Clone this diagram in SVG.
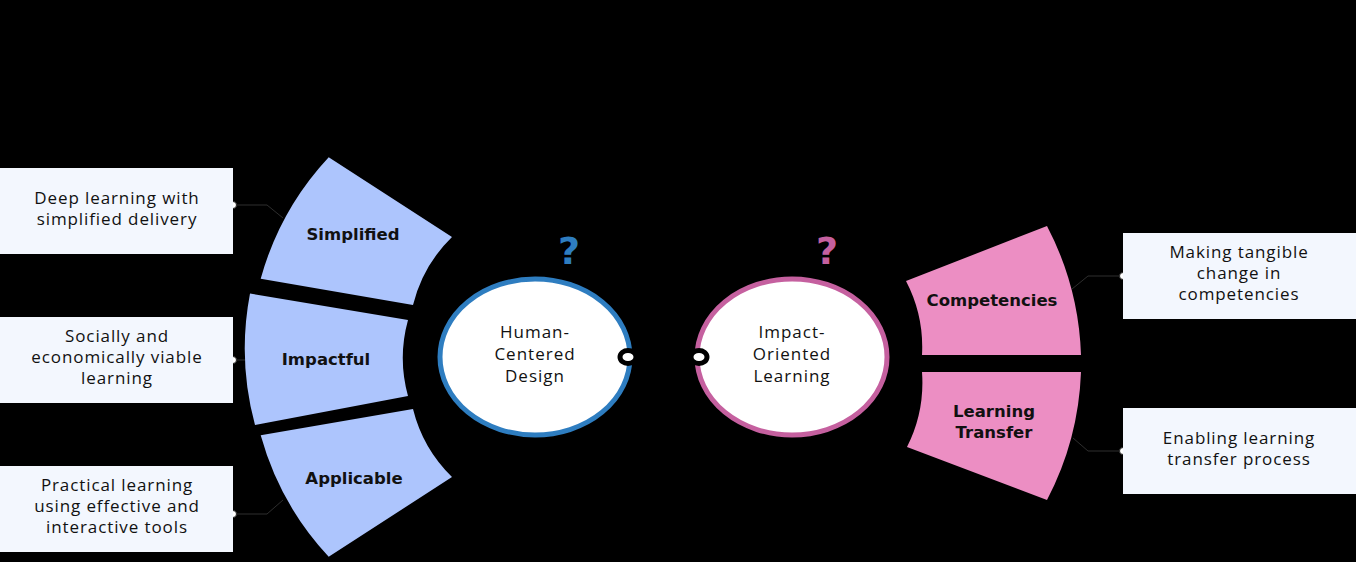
<svg xmlns="http://www.w3.org/2000/svg" width="1356" height="562" viewBox="0 0 1356 562">
<style>
.seg{fill:#adc5fd}
.pseg{fill:#ec8ec3}
.box{fill:#f3f7fe}
.lbl{font-family:"DejaVu Sans",sans-serif;font-weight:bold;font-size:16.5px;fill:#111;text-anchor:middle}
.bt{font-family:"Open Sans",sans-serif;font-size:17px;fill:#111;text-anchor:middle;letter-spacing:0.9px}
.ct{font-family:"Open Sans",sans-serif;font-size:17px;fill:#111;text-anchor:middle;letter-spacing:1px}
.con{fill:none;stroke:#2e2e2e;stroke-width:1}
.dot{fill:#fff;stroke:#222;stroke-width:1}
.knob{fill:#fff;stroke:#000;stroke-width:5}
</style>
<rect width="1356" height="562" fill="#000"/>
<g id="connectors">
<path class="con" d="M233,205 H267 L283,218"/>
<path class="con" d="M233,360 H252"/>
<path class="con" d="M233,514 H267 L283,500"/>
<path class="con" d="M1123,276 H1088 L1072,289"/>
<path class="con" d="M1123,451 H1088 L1073,438"/>
<circle class="dot" cx="233" cy="205" r="3.5"/>
<circle class="dot" cx="233" cy="360" r="3.5"/>
<circle class="dot" cx="233" cy="514" r="3.5"/>
<circle class="dot" cx="1123" cy="276" r="3.5"/>
<circle class="dot" cx="1123" cy="451" r="3.5"/>
</g>
<g id="box-simplified"><rect class="box" x="0" y="168" width="233" height="86"/><text class="bt" x="117" y="204">Deep learning with</text><text class="bt" x="117" y="225">simplified delivery</text></g>
<g id="box-impactful"><rect class="box" x="0" y="317" width="233" height="86"/><text class="bt" x="117" y="342">Socially and</text><text class="bt" x="117" y="363">economically viable</text><text class="bt" x="117" y="384">learning</text></g>
<g id="box-applicable"><rect class="box" x="0" y="466" width="233" height="86"/><text class="bt" x="117" y="491">Practical learning</text><text class="bt" x="117" y="512">using effective and</text><text class="bt" x="117" y="533">interactive tools</text></g>
<g id="seg-simplified"><path class="seg" d="M328.7,157.2 A293,293 0 0 0 260.7,278.7 L413,305 A143,143 0 0 1 452,237 Z"/><text class="lbl" x="353" y="240">Simplified</text></g>
<g id="seg-impactful"><path class="seg" d="M250,293.6 A293,293 0 0 0 255,425 L408,396 A143,143 0 0 1 408,320 Z"/><text class="lbl" x="326" y="365">Impactful</text></g>
<g id="seg-applicable"><path class="seg" d="M260.7,435.3 A293,293 0 0 0 328.7,556.8 L452,477 A143,143 0 0 1 413,409 Z"/><text class="lbl" x="354" y="484">Applicable</text></g>
<g id="hcd"><ellipse cx="535" cy="357" rx="95" ry="78" fill="#fff" stroke="#2e7dc0" stroke-width="5"/><text class="ct" x="535" y="338">Human-</text><text class="ct" x="535" y="360">Centered</text><text class="ct" x="535" y="382">Design</text>
<text x="569" y="264" font-family="DejaVu Sans,sans-serif" font-weight="bold" font-size="38" fill="#2e7dc0" text-anchor="middle">?</text>
<ellipse class="knob" cx="628" cy="357" rx="8" ry="6.5"/></g>
<g id="iol"><ellipse cx="792" cy="357" rx="95" ry="78" fill="#fff" stroke="#c5609f" stroke-width="5"/><text class="ct" x="792" y="338">Impact-</text><text class="ct" x="792" y="360">Oriented</text><text class="ct" x="792" y="382">Learning</text>
<text x="827" y="264" font-family="DejaVu Sans,sans-serif" font-weight="bold" font-size="38" fill="#c5609f" text-anchor="middle">?</text>
<ellipse class="knob" cx="699" cy="357" rx="8" ry="6.5"/></g>
<g id="seg-competencies"><path class="pseg" d="M1047,226 A300,300 0 0 1 1081,355 L922,355 A143,143 0 0 0 906,281 Z"/><text class="lbl" x="992" y="306">Competencies</text></g>
<g id="seg-transfer"><path class="pseg" d="M1081,372 A300,300 0 0 1 1047,500 L907,447 A143,143 0 0 0 922,372 Z"/><text class="lbl" x="994" y="417">Learning</text><text class="lbl" x="994" y="438">Transfer</text></g>
<g id="box-competencies"><rect class="box" x="1123" y="233" width="233" height="86"/><text class="bt" x="1239" y="258">Making tangible</text><text class="bt" x="1239" y="279">change in</text><text class="bt" x="1239" y="300">competencies</text></g>
<g id="box-transfer"><rect class="box" x="1123" y="408" width="233" height="86"/><text class="bt" x="1239" y="444">Enabling learning</text><text class="bt" x="1239" y="465">transfer process</text></g>
</svg>
